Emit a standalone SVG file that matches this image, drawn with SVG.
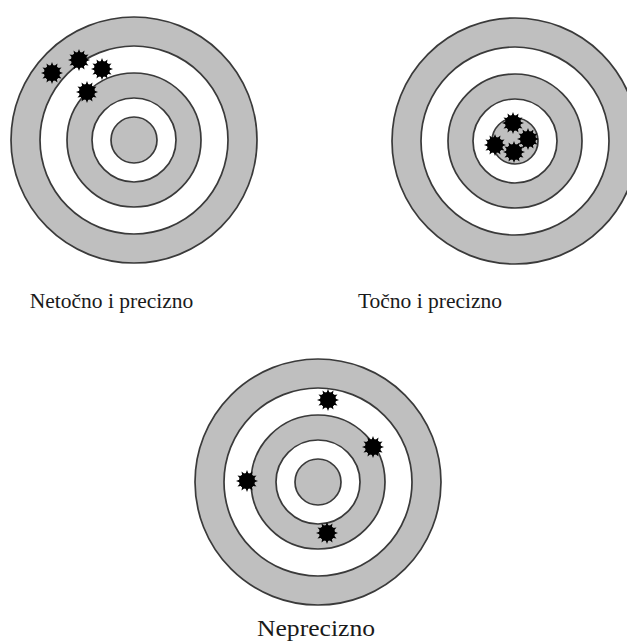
<svg xmlns="http://www.w3.org/2000/svg" xmlns:xlink="http://www.w3.org/1999/xlink" width="627" height="641" viewBox="0 0 627 641">
<style>
.g{fill:#bfbfbf;stroke:#3a3a3a;stroke-width:1.7}
.w{fill:#ffffff;stroke:#3a3a3a;stroke-width:1.7}
.lbl{font-family:"Liberation Serif","Times New Roman",serif;font-size:21.5px;fill:#1a1a1a;text-anchor:middle}
.hole{fill:#000000}
</style>
<defs>
<g id="target">
<circle class="g" r="123"/>
<circle class="w" r="94"/>
<circle class="g" r="67"/>
<circle class="w" r="42"/>
<circle class="g" r="23"/>
</g>
<g id="splat" class="hole" transform="scale(1.1)">
<polygon points="10,0 5.8,1.55 8.66,5 4.24,4.24 5,8.66 1.55,5.8 0,10 -1.55,5.8 -5,8.66 -4.24,4.24 -8.66,5 -5.8,1.55 -10,0 -5.8,-1.55 -8.66,-5 -4.24,-4.24 -5,-8.66 -1.55,-5.8 0,-10 1.55,-5.8 5,-8.66 4.24,-4.24 8.66,-5 5.8,-1.55"/>
<circle r="7.3"/>
</g>
</defs>
<rect width="627" height="641" fill="#ffffff"/>
<g id="target1">
<use xlink:href="#target" x="134" y="140"/>
<use xlink:href="#splat" x="52" y="73"/>
<use xlink:href="#splat" x="79" y="60"/>
<use xlink:href="#splat" x="102" y="69"/>
<use xlink:href="#splat" x="87" y="92"/>
<text class="lbl" x="111.5" y="308">Netočno i precizno</text>
</g>
<g id="target2">
<use xlink:href="#target" x="515" y="141"/>
<use xlink:href="#splat" x="513" y="123"/>
<use xlink:href="#splat" x="495" y="145"/>
<use xlink:href="#splat" x="528" y="139"/>
<use xlink:href="#splat" x="514" y="152"/>
<text class="lbl" x="430" y="308">Točno i precizno</text>
</g>
<g id="target3">
<use xlink:href="#target" x="318" y="482"/>
<use xlink:href="#splat" x="328" y="400"/>
<use xlink:href="#splat" x="373" y="447"/>
<use xlink:href="#splat" x="247" y="481"/>
<use xlink:href="#splat" x="327" y="533"/>
<text class="lbl" x="316" y="636" textLength="118" lengthAdjust="spacingAndGlyphs" style="font-size:23px">Neprecizno</text>
</g>
<g id="connectors"/>
</svg>
